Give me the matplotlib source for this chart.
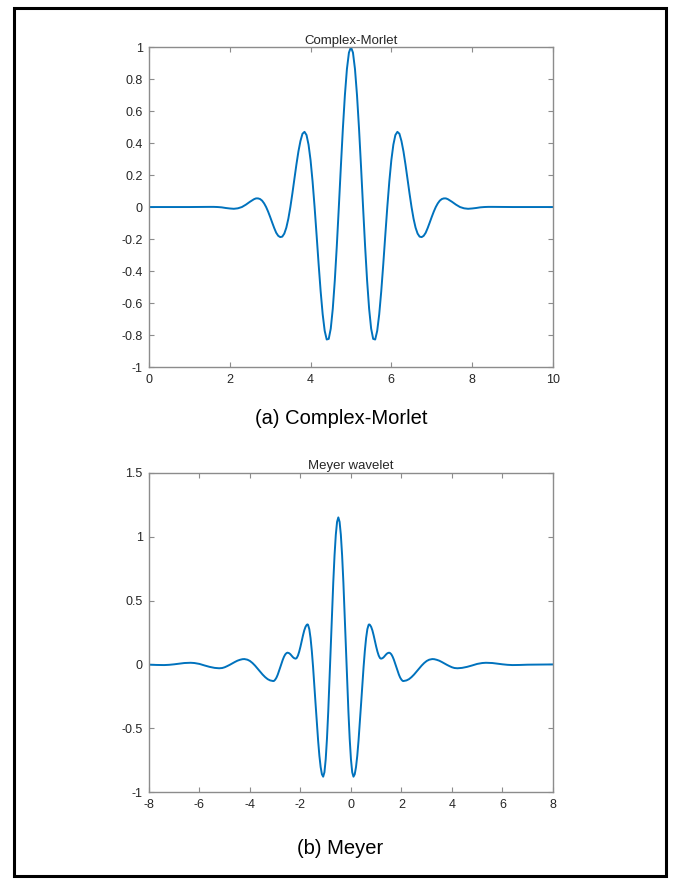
import matplotlib
matplotlib.use("Agg")
import matplotlib.pyplot as plt
from matplotlib.patches import Rectangle

# ── Data ──────────────────────────────────────────────────────────────────────

morlet_x = [0.0, 1.0, 1.5, 1.6, 1.7, 1.8, 1.9, 2.0, 2.1, 2.2, 2.3, 2.4, 2.5,
            2.6, 2.65, 2.7, 2.75, 2.8, 2.85, 2.9, 2.95, 3.0, 3.05, 3.1, 3.15,
            3.2, 3.25, 3.3, 3.35, 3.4, 3.45, 3.5, 3.55, 3.6, 3.65, 3.7, 3.75,
            3.8, 3.85, 3.9, 3.95, 4.0, 4.05, 4.1, 4.15, 4.2, 4.25, 4.3, 4.35,
            4.4, 4.45, 4.5, 4.55, 4.6, 4.65, 4.7, 4.75, 4.8, 4.85, 4.9, 4.95,
            5.0,
            5.05, 5.1, 5.15, 5.2, 5.25, 5.3, 5.35, 5.4, 5.45, 5.5, 5.55, 5.6,
            5.65, 5.7, 5.75, 5.8, 5.85, 5.9, 5.95, 6.0, 6.05, 6.1, 6.15, 6.2,
            6.25, 6.3, 6.35, 6.4, 6.45, 6.5, 6.55, 6.6, 6.65, 6.7, 6.75, 6.8,
            6.85, 6.9, 6.95, 7.0, 7.05, 7.1, 7.15, 7.2, 7.25, 7.3, 7.35, 7.4,
            7.5, 7.6, 7.7, 7.8, 7.9, 8.0, 8.1, 8.2, 8.3, 8.4, 8.5, 9.0, 10.0]
morlet_y = [0.0, 0.0, 0.001, 0.001, 0.0, -0.002, -0.006, -0.009, -0.011, -0.008,
            0.0, 0.015, 0.033,
            0.049, 0.054, 0.054, 0.050, 0.040, 0.023, 0.0, -0.029, -0.062,
            -0.097, -0.131, -0.161,
            -0.180, -0.188, -0.185, -0.166, -0.129, -0.073, 0.0, 0.085, 0.176,
            0.266, 0.348, 0.413,
            0.458, 0.470, 0.450, 0.390, 0.293, 0.160, 0.0, -0.177, -0.358,
            -0.527, -0.670, -0.774,
            -0.828, -0.824, -0.760, -0.636, -0.460, -0.243, 0.0, 0.251, 0.490,
            0.699, 0.862, 0.965,
            1.0,
            0.965, 0.862, 0.699, 0.490, 0.251, 0.0, -0.243, -0.460, -0.636,
            -0.760, -0.824, -0.828,
            -0.774, -0.670, -0.527, -0.358, -0.177, 0.0, 0.160, 0.293, 0.390,
            0.450, 0.470, 0.458,
            0.413, 0.348, 0.266, 0.176, 0.085, 0.0, -0.073, -0.129, -0.166,
            -0.185, -0.188, -0.180,
            -0.161, -0.131, -0.097, -0.062, -0.029, 0.0, 0.023, 0.040, 0.050,
            0.054, 0.054, 0.049,
            0.033, 0.015, 0.0, -0.008, -0.011, -0.009, -0.006, -0.002, 0.0,
            0.001, 0.001, 0.0, 0.0]

meyer_x = [-8.0, -7.7, -7.4, -7.2, -7.0, -6.8, -6.6, -6.35, -6.2, -6.0, -5.8,
           -5.6, -5.4, -5.22, -5.1, -5.0, -4.9, -4.8, -4.7, -4.6, -4.5, -4.4,
           -4.3, -4.22, -4.1, -4.0, -3.9, -3.8, -3.7, -3.6, -3.5, -3.4, -3.3,
           -3.2, -3.08, -3.05, -3.0, -2.95, -2.9, -2.85, -2.8, -2.75, -2.7,
           -2.65, -2.6, -2.55, -2.51, -2.45, -2.4, -2.35, -2.3, -2.25, -2.19,
           -2.15, -2.1, -2.05, -2.0, -1.95, -1.9, -1.85, -1.8, -1.75, -1.72,
           -1.7, -1.65, -1.6, -1.55, -1.5, -1.45, -1.4, -1.35, -1.3, -1.25,
           -1.2, -1.15, -1.1, -1.05, -1.0, -0.95, -0.9, -0.85, -0.8, -0.75,
           -0.7, -0.65, -0.6, -0.55, -0.5,
           -0.45, -0.4, -0.35, -0.3, -0.25, -0.2, -0.15, -0.1, -0.05, 0.0,
           0.05, 0.1, 0.15, 0.2, 0.25, 0.3, 0.35, 0.4, 0.45, 0.5, 0.55, 0.6,
           0.65, 0.7, 0.72, 0.75, 0.8, 0.85, 0.9, 0.95, 1.0, 1.05, 1.1, 1.15,
           1.19, 1.25, 1.3, 1.35, 1.4, 1.45, 1.51, 1.55, 1.6, 1.65, 1.7, 1.75,
           1.8, 1.85, 1.9, 1.95, 2.0, 2.05, 2.08, 2.2, 2.3, 2.4, 2.5, 2.6, 2.7,
           2.8, 2.9, 3.0, 3.1, 3.22, 3.3, 3.4, 3.5, 3.6, 3.7, 3.8, 3.9, 4.0,
           4.1, 4.22, 4.4, 4.6, 4.8, 5.0, 5.2, 5.35, 5.6, 5.8, 6.0, 6.2, 6.4,
           6.7, 7.0, 7.5, 8.0]
meyer_y = [-0.002, -0.004, -0.005, -0.003, 0.001, 0.006, 0.011, 0.013, 0.011,
           0.004, -0.008, -0.019, -0.027, -0.030, -0.028, -0.022, -0.013,
           -0.003, 0.008, 0.019, 0.029, 0.036, 0.041, 0.042, 0.037, 0.027,
           0.011, -0.009, -0.032, -0.056, -0.079, -0.099, -0.115, -0.125,
           -0.130, -0.129, -0.119, -0.103, -0.080, -0.052, -0.022, 0.008,
           0.037, 0.061, 0.079, 0.089, 0.092, 0.088, 0.080, 0.069, 0.057,
           0.049, 0.045, 0.050, 0.069, 0.100, 0.139, 0.183, 0.227, 0.266,
           0.294, 0.310, 0.313, 0.310, 0.276, 0.206, 0.105, -0.021, -0.163,
           -0.313, -0.461, -0.597, -0.715, -0.803, -0.859, -0.878, -0.843,
           -0.742, -0.581, -0.371, -0.126, 0.136, 0.398, 0.643, 0.853, 1.014,
           1.115, 1.150,
           1.115, 1.014, 0.853, 0.643, 0.398, 0.136, -0.126, -0.371, -0.581,
           -0.742, -0.843, -0.878, -0.859, -0.803, -0.715, -0.597, -0.461,
           -0.313, -0.163, -0.021, 0.105, 0.206, 0.276, 0.310, 0.313, 0.310,
           0.294, 0.266, 0.227, 0.183, 0.139, 0.100, 0.069, 0.050, 0.045,
           0.049, 0.057, 0.069, 0.080, 0.088, 0.092, 0.089, 0.079, 0.061,
           0.037, 0.008, -0.022, -0.052, -0.080, -0.103, -0.119, -0.129,
           -0.130, -0.125, -0.115, -0.099, -0.079, -0.056, -0.032, -0.009,
           0.011, 0.027, 0.037, 0.042, 0.041, 0.036, 0.029, 0.019, 0.008,
           -0.003, -0.013, -0.022, -0.028, -0.030, -0.027, -0.019, -0.008,
           0.004, 0.011, 0.013, 0.011, 0.006, 0.001, -0.003, -0.005, -0.004,
           -0.002, -0.001, 0.0]

morlet_yticks = [-1, -0.8, -0.6, -0.4, -0.2, 0, 0.2, 0.4, 0.6, 0.8, 1]
morlet_xticks = [0, 2, 4, 6, 8, 10]
meyer_yticks = [-1, -0.5, 0, 0.5, 1, 1.5]
meyer_xticks = [-8, -6, -4, -2, 0, 2, 4, 6, 8]

# ── Style ─────────────────────────────────────────────────────────────────────

plt.rcParams["font.family"] = ["Liberation Sans", "DejaVu Sans"]
LINE = "#0072BD"
SPINE = "#8c8c8c"
TEXT = "#262626"


def _style(ax, xlim, ylim, xticks, yticks):
    ax.set_xlim(*xlim)
    ax.set_ylim(*ylim)
    ax.set_xticks(xticks)
    ax.set_yticks(yticks)
    ax.set_xticklabels([f"{t:g}" for t in xticks])
    ax.set_yticklabels([f"{t:g}" for t in yticks])
    ax.tick_params(direction="in", length=3.5, width=0.8, color=SPINE,
                   labelsize=9, labelcolor=TEXT, top=True, right=True)
    ax.tick_params(axis="x", pad=5)
    ax.tick_params(axis="y", pad=4.5)
    for s in ax.spines.values():
        s.set_color(SPINE)
        s.set_linewidth(1.0)


fig = plt.figure(figsize=(6.8, 8.81), dpi=100)

# outer frame
fig.patches.append(Rectangle((0.0206, 0.0057), 0.959, 0.985,
                             transform=fig.transFigure, fill=False,
                             edgecolor="black", linewidth=2.2))

ax1 = fig.add_axes([0.2191, 0.5834, 0.594, 0.3632])
ax1.plot(morlet_x, morlet_y, color=LINE, linewidth=1.4)
_style(ax1, (0, 10), (-1, 1), morlet_xticks, morlet_yticks)
ax1.set_title("Complex-Morlet", fontsize=9.5, color=TEXT, pad=2.5)
fig.text(0.502, 0.525, "(a) Complex-Morlet", ha="center", va="center",
         fontsize=14.5, color="black")

ax2 = fig.add_axes([0.2191, 0.1007, 0.594, 0.3628])
ax2.plot(meyer_x, meyer_y, color=LINE, linewidth=1.4)
_style(ax2, (-8, 8), (-1, 1.5), meyer_xticks, meyer_yticks)
ax2.set_title("Meyer wavelet", fontsize=9.5, color=TEXT, pad=2.5)
fig.text(0.5, 0.037, "(b) Meyer", ha="center", va="center",
         fontsize=14.5, color="black")

fig.savefig("out.png", dpi=100)
plt.close(fig)
